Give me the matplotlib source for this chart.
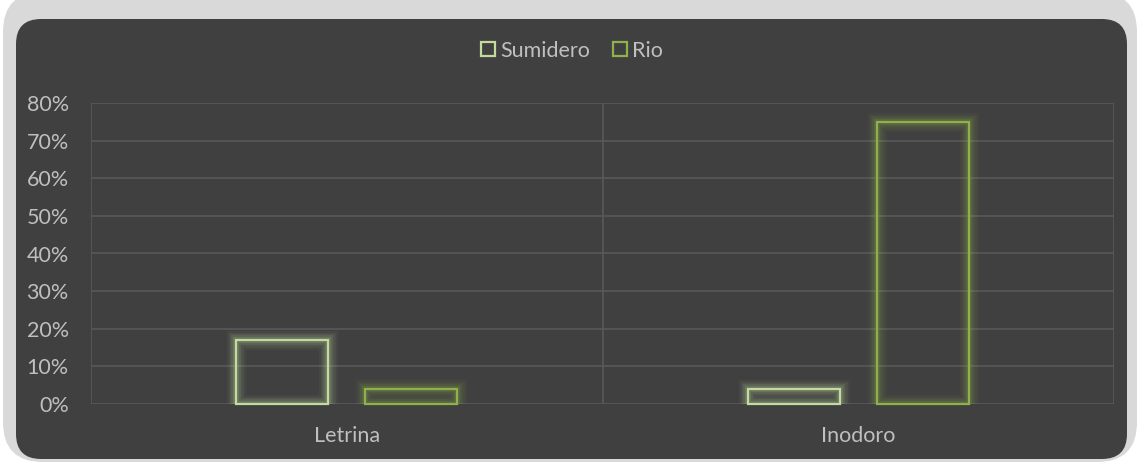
import matplotlib
matplotlib.use("Agg")
import matplotlib.pyplot as plt
import numpy as np
from matplotlib.patches import FancyBboxPatch, Rectangle
from matplotlib.ticker import FuncFormatter, MultipleLocator
from matplotlib.lines import Line2D

categories = ["Letrina", "Inodoro"]
series_names = ["Sumidero", "Rio"]
sumidero = [0.17, 0.04]
rio = [0.04, 0.75]

BG = "#404040"
FRAME = "#d9d9d9"
TEXT = "#bfbfbf"
GRID = "#595959"
COLORS = ["#c3dc9e", "#8fb04a"]
FS = 15.5

plt.rcParams["font.family"] = ["Lato", "DejaVu Sans"]

fig = plt.figure(figsize=(11.4, 4.68), dpi=100)
fig.patch.set_facecolor("white")

# outer frame and dark card
W, H = 1140, 468
outer = FancyBboxPatch((3 / W, 6 / H), 1134 / W, 470 / H,
                       boxstyle="round,pad=0,rounding_size=0.035",
                       transform=fig.transFigure, facecolor=FRAME,
                       edgecolor="none", mutation_aspect=W / H, zorder=-3)
inner = FancyBboxPatch((16 / W, 9 / H), 1111 / W, 440 / H,
                       boxstyle="round,pad=0,rounding_size=0.022",
                       transform=fig.transFigure, facecolor=BG,
                       edgecolor="none", mutation_aspect=W / H, zorder=-2)
fig.patches.extend([outer, inner])

ax = fig.add_axes([91 / W, (H - 404) / H, (1114 - 91) / W, (404 - 103) / H])
ax.set_zorder(1)
ax.set_facecolor("none")
ax.set_xlim(0, 2)
ax.set_ylim(0, 0.8)

ax.yaxis.set_major_locator(MultipleLocator(0.1))
ax.yaxis.set_major_formatter(FuncFormatter(lambda v, _: f"{v * 100:.0f}%"))
ax.grid(axis="y", color=GRID, linewidth=1.2)
ax.set_axisbelow(True)
for x in (0, 1, 2):
    ax.axvline(x, color=GRID, linewidth=1.2, zorder=0)
for s in ax.spines.values():
    s.set_visible(False)

ax.set_xticks(np.arange(len(categories)) + 0.5)
ax.set_xticklabels(categories)
ax.tick_params(axis="both", length=0, colors=TEXT, labelsize=FS)
ax.tick_params(axis="x", pad=16)
ax.tick_params(axis="y", pad=16)

width = 0.18
offsets = [-0.126, 0.126]
for vals, off, col in zip([sumidero, rio], offsets, COLORS):
    for i, v in enumerate(vals):
        x0 = i + 0.5 + off - width / 2
        # soft glow around each bar, cut off at the baseline
        for lw, a in [(14, 0.05), (10.5, 0.08), (7.5, 0.11), (4.5, 0.16)]:
            ax.add_patch(Rectangle((x0, 0), width, v, facecolor="none",
                                   edgecolor=col, linewidth=lw, alpha=a,
                                   zorder=2))
        ax.add_patch(Rectangle((x0, 0), width, v, facecolor="none",
                               edgecolor=col, linewidth=1.6, zorder=3,
                               clip_on=False))

handles = [Line2D([], [], marker="s", linestyle="none", markersize=10.5,
                  markerfacecolor="none", markeredgecolor=c, markeredgewidth=1.6)
           for c in COLORS]
leg = fig.legend(handles, series_names, loc="center", bbox_to_anchor=(0.5, 1 - 51 / H),
                 ncol=2, frameon=False, handletextpad=0.05, columnspacing=0.9,
                 fontsize=FS, handlelength=1.0)
for t in leg.get_texts():
    t.set_color(TEXT)

fig.savefig("out.png", dpi=100)
